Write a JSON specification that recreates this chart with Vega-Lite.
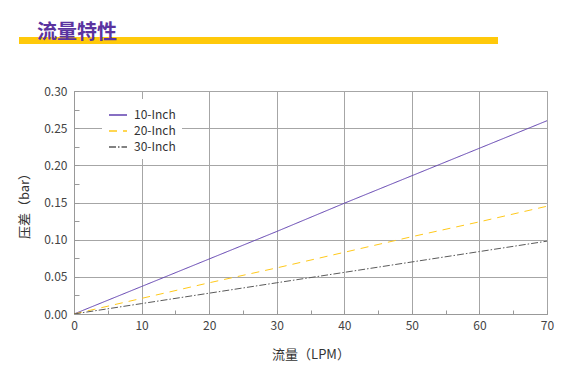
{
  "$schema": "https://vega.github.io/schema/vega-lite/v6.json",
  "padding": {"left": 18, "top": 23, "right": 0, "bottom": 0},
  "background": "white",
  "spacing": 40,
  "columns": 1,
  "config": {
    "font": "Noto Sans CJK SC",
    "view": {"stroke": "#a6a6a6", "strokeWidth": 1},
    "axis": {
      "labelFont": "Noto Sans CJK SC",
      "labelFontSize": 12,
      "labelColor": "#444444",
      "titleFont": "Noto Sans CJK SC",
      "titleFontSize": 13,
      "titleFontWeight": "normal",
      "titleColor": "#333333",
      "domainColor": "#999999",
      "gridColor": "#a6a6a6",
      "tickColor": "#999999"
    }
  },
  "concat": [
    {
      "width": 424,
      "height": 7,
      "view": {"stroke": null},
      "title": {
        "text": "流量特性",
        "anchor": "start",
        "frame": "group",
        "fontSize": 20,
        "font": "Noto Sans CJK SC",
        "fontWeight": "bold",
        "color": "#5a33a0",
        "baseline": "bottom",
        "offset": 0,
        "dx": -37,
        "dy": 26
      },
      "data": {"values": [{"start": 0, "end": 1}]},
      "mark": {"type": "rect", "color": "#FFC90A", "clip": false},
      "encoding": {
        "x": {"field": "start", "type": "quantitative", "scale": {"domain": [0, 1], "range": [-55, 424], "nice": false, "zero": false}, "axis": null},
        "x2": {"field": "end"}
      }
    },
    {
      "width": 473,
      "height": 223,
      "data": {
        "values": [
          {"flow": 0, "dp": 0, "series": "10-Inch"},
          {"flow": 10, "dp": 0.037, "series": "10-Inch"},
          {"flow": 20, "dp": 0.074, "series": "10-Inch"},
          {"flow": 30, "dp": 0.111, "series": "10-Inch"},
          {"flow": 40, "dp": 0.149, "series": "10-Inch"},
          {"flow": 50, "dp": 0.186, "series": "10-Inch"},
          {"flow": 60, "dp": 0.223, "series": "10-Inch"},
          {"flow": 70, "dp": 0.26, "series": "10-Inch"},
          {"flow": 0, "dp": 0, "series": "20-Inch"},
          {"flow": 10, "dp": 0.021, "series": "20-Inch"},
          {"flow": 20, "dp": 0.042, "series": "20-Inch"},
          {"flow": 30, "dp": 0.062, "series": "20-Inch"},
          {"flow": 40, "dp": 0.083, "series": "20-Inch"},
          {"flow": 50, "dp": 0.104, "series": "20-Inch"},
          {"flow": 60, "dp": 0.124, "series": "20-Inch"},
          {"flow": 70, "dp": 0.145, "series": "20-Inch"},
          {"flow": 0, "dp": 0, "series": "30-Inch"},
          {"flow": 10, "dp": 0.014, "series": "30-Inch"},
          {"flow": 20, "dp": 0.028, "series": "30-Inch"},
          {"flow": 30, "dp": 0.042, "series": "30-Inch"},
          {"flow": 40, "dp": 0.056, "series": "30-Inch"},
          {"flow": 50, "dp": 0.07, "series": "30-Inch"},
          {"flow": 60, "dp": 0.084, "series": "30-Inch"},
          {"flow": 70, "dp": 0.098, "series": "30-Inch"}
        ]
      },
      "mark": {"type": "line", "strokeWidth": 1, "clip": true},
      "encoding": {
        "x": {
          "field": "flow",
          "type": "quantitative",
          "scale": {"domain": [0, 70], "nice": false, "zero": false},
          "axis": {
            "title": "流量（LPM）",
            "values": [0, 5, 10, 15, 20, 25, 30, 35, 40, 45, 50, 55, 60, 65, 70],
            "labelExpr": "datum.value % 10 === 0 ? datum.label : ''",
            "grid": true,
            "gridOpacity": {"condition": {"test": "datum.value % 10 === 0", "value": 1}, "value": 0},
            "tickSize": -4,
            "labelPadding": 10,
            "titlePadding": 17,
            "labelFlush": false,
            "labelOverlap": false
          }
        },
        "y": {
          "field": "dp",
          "type": "quantitative",
          "scale": {"domain": [0, 0.3], "nice": false},
          "axis": {
            "title": "压差（bar）",
            "values": [0, 0.025, 0.05, 0.075, 0.1, 0.125, 0.15, 0.175, 0.2, 0.225, 0.25, 0.275, 0.3],
            "format": ".2f",
            "labelExpr": "round(datum.value * 1000) % 50 === 0 ? datum.label : ''",
            "grid": true,
            "gridOpacity": {"condition": {"test": "round(datum.value * 1000) % 50 === 0", "value": 1}, "value": 0},
            "tickSize": -5,
            "labelPadding": 12,
            "titlePadding": 12,
            "labelFlush": false,
            "labelOverlap": false
          }
        },
        "color": {
          "field": "series",
          "type": "nominal",
          "scale": {"domain": ["10-Inch", "20-Inch", "30-Inch"], "range": ["#6040b0", "#ffc91a", "#5a5a5a"]},
          "legend": {
            "title": null,
            "orient": "none",
            "legendX": 28,
            "legendY": 62,
            "fillColor": "white",
            "padding": 6,
            "symbolType": "stroke",
            "symbolSize": 324,
            "symbolStrokeWidth": 1.3,
            "labelFontSize": 12,
            "labelFont": "Noto Sans CJK SC",
            "labelColor": "#333333",
            "labelOffset": 6,
            "rowPadding": -2
          }
        },
        "strokeDash": {
          "field": "series",
          "type": "nominal",
          "scale": {"domain": ["10-Inch", "20-Inch", "30-Inch"], "range": [[1, 0], [8, 6], [7, 2, 1.5, 2]]},
          "legend": {
            "title": null,
            "orient": "none",
            "legendX": 28,
            "legendY": 62,
            "fillColor": "white",
            "padding": 6,
            "symbolType": "stroke",
            "symbolSize": 324,
            "symbolStrokeWidth": 1.3,
            "labelFontSize": 12,
            "labelFont": "Noto Sans CJK SC",
            "labelColor": "#333333",
            "labelOffset": 6,
            "rowPadding": -2
          }
        }
      }
    }
  ]
}
